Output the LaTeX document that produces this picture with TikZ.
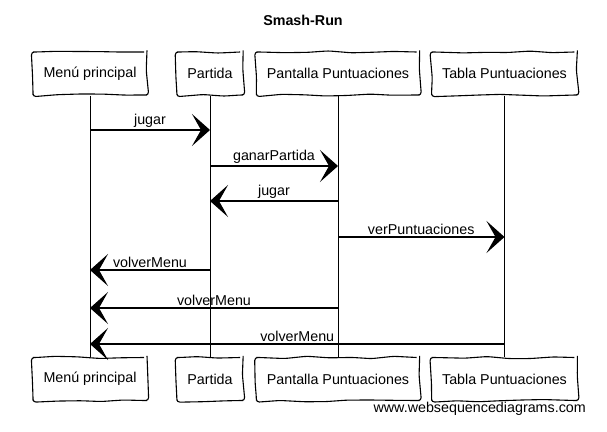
\documentclass[tikz,border=0pt]{standalone}
\usepackage{fontspec}
\setmainfont{Liberation Sans}
\usetikzlibrary{arrows.meta, decorations.pathmorphing}

\begin{document}
\begin{tikzpicture}[x=1pt, y=-1pt, every node/.style={font=\fontsize{14.3}{17}\selectfont}]
  \pgfmathsetseed{11}
  \tikzset{
    actor/.style={draw, line width=1.1pt, minimum height=43pt, inner xsep=10.5pt,
      decorate, decoration={random steps, segment length=22pt, amplitude=1.3pt}, rounded corners=3pt},
    lifeline/.style={line width=0.9pt},
    msg/.style={line width=1.3pt, -{Stealth[length=18pt, width=32pt, inset=9pt]}},
    msglabel/.style={midway, above, inner sep=1.5pt}
  }
  \useasboundingbox (0,0) rectangle (607,431);

  % Title
  \node[font=\fontsize{14.3}{17}\selectfont\bfseries] (title) at (303,20) {Smash-Run};

  % Participants (top)
  \node[actor] (mpTop) at (90,73.5) {Menú principal};
  \node[actor] (paTop) at (210,73.5) {Partida};
  \node[actor] (ppTop) at (338,73.5) {Pantalla Puntuaciones};
  \node[actor] (tpTop) at (504.5,73.5) {Tabla Puntuaciones};

  % Participants (bottom)
  \node[actor] (mpBot) at (90,379) {Menú principal};
  \node[actor] (paBot) at (210,379) {Partida};
  \node[actor] (ppBot) at (338,379) {Pantalla Puntuaciones};
  \node[actor] (tpBot) at (504.5,379) {Tabla Puntuaciones};

  % Lifelines
  \draw[lifeline] (mpTop) -- (mpBot);
  \draw[lifeline] (paTop) -- (paBot);
  \draw[lifeline] (ppTop) -- (ppBot);
  \draw[lifeline] (tpTop) -- (tpBot);

  % Message rows
  \coordinate (r1) at (0,130);
  \coordinate (r2) at (0,166);
  \coordinate (r3) at (0,201);
  \coordinate (r4) at (0,237);
  \coordinate (r5) at (0,270);
  \coordinate (r6) at (0,308);
  \coordinate (r7) at (0,344);

  % Messages
  \draw[msg] (mpTop |- r1) -- (paTop |- r1) node[msglabel] {jugar};
  \draw[msg] (paTop |- r2) -- (ppTop |- r2) node[msglabel] {ganarPartida};
  \draw[msg] (ppTop |- r3) -- (paTop |- r3) node[msglabel] {jugar};
  \draw[msg] (ppTop |- r4) -- (tpTop |- r4) node[msglabel] {verPuntuaciones};
  \draw[msg] (paTop |- r5) -- (mpTop |- r5) node[msglabel] {volverMenu};
  \draw[msg] (ppTop |- r6) -- (mpTop |- r6) node[msglabel] {volverMenu};
  \draw[msg] (tpTop |- r7) -- (mpTop |- r7) node[msglabel] {volverMenu};

  % Footer
  \node[anchor=east, inner sep=0pt] (footer) at (586,409) {www.websequencediagrams.com};
\end{tikzpicture}
\end{document}
